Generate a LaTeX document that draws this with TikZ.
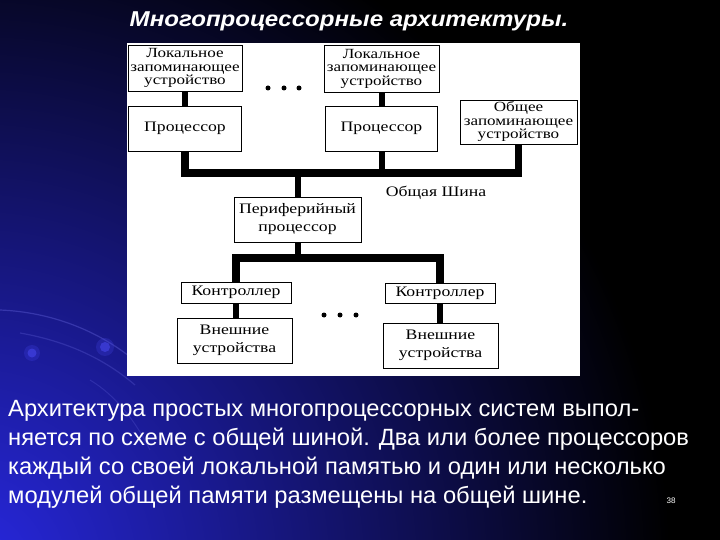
\documentclass[tikz,border=0pt]{standalone}
\usepackage{fontspec}
\setmainfont{Liberation Serif}
\newfontfamily\boxfont[FakeStretch=1.22]{Liberation Serif}
\newfontfamily\slidefont[FakeStretch=1.01]{Liberation Sans}
\newfontfamily\titlefont[FakeStretch=1.12]{Liberation Sans}
\definecolor{glowblue}{RGB}{40,40,225}
\definecolor{arcblue}{RGB}{90,90,210}
\definecolor{dotblue}{RGB}{70,70,235}
\tikzset{
  blk/.style={draw=black, fill=white, line width=0.9pt, inner sep=0pt, align=center,
    font=\boxfont\fontsize{14}{13.5}\selectfont},
  blk2/.style={blk, font=\boxfont\fontsize{14.5}{18}\selectfont},
  blk1/.style={blk, font=\boxfont\fontsize{14.5}{14}\selectfont},
  wire/.style={line width=6pt, black},
  bus/.style={line width=7.5pt, black, line join=miter},
  dotmark/.style={circle, fill=black, inner sep=0pt, minimum size=5pt},
  slidetext/.style={anchor=base west, text=white, inner sep=0pt,
    font=\slidefont\fontsize{23.5}{28}\selectfont}
}
\begin{document}
\begin{tikzpicture}[x=1pt,y=-1pt]
\useasboundingbox (0,0) rectangle (720,540);
\fill[black] (0,0) rectangle (720,540);
\begin{scope}
  \clip (0,0) rectangle (720,540);
  \shade[inner color=glowblue, outer color=black] (-30,570) circle (700pt);
  \draw[arcblue, opacity=0.45, line width=1.2pt] (0,310) .. controls (50,312) and (100,330) .. (140,365);
  \draw[arcblue, opacity=0.35, line width=1.2pt] (20,333) .. controls (60,340) and (100,355) .. (135,385);
  \draw[arcblue, opacity=0.3, line width=1pt] (90,380) .. controls (115,395) and (135,420) .. (150,450);
  \fill[dotblue, opacity=0.25] (32,353) circle (8pt);
  \fill[dotblue, opacity=0.6] (32,353) circle (4.5pt);
  \fill[dotblue, opacity=0.25] (105,347) circle (9pt);
  \fill[dotblue, opacity=0.6] (105,347) circle (5pt);
\end{scope}

% title
\node[anchor=base, text=white, inner sep=0pt, font=\titlefont\bfseries\itshape\fontsize{21.5}{22}\selectfont]
  (title) at (349,27) {Многопроцессорные архитектуры.};

% white panel
\fill[white] (127,43) rectangle (580,376);

% boxes
\node[blk, minimum width=114pt, minimum height=46pt] (mem1) at (185,68) {Локальное\\запоминающее\\устройство};
\node[blk1, minimum width=113pt, minimum height=45pt] (proc1) at (185,128.5) {Процессор};
\node[blk, minimum width=115pt, minimum height=47pt] (mem2) at (381.5,68.5) {Локальное\\запоминающее\\устройство};
\node[blk1, minimum width=112pt, minimum height=45pt] (proc2) at (381.5,128.5) {Процессор};
\node[blk, minimum width=117pt, minimum height=44pt] (common) at (518.5,122) {Общее\\запоминающее\\устройство};
\node[blk2, minimum width=127pt, minimum height=45pt] (periph) at (297.5,219.5) {Периферийный\\процессор};
\node[blk1, minimum width=110pt, minimum height=21pt] (ctrl1) at (236,292.5) {Контроллер};
\node[blk2, minimum width=115pt, minimum height=45pt] (ext1) at (234.5,340.5) {Внешние\\устройства};
\node[blk1, minimum width=110pt, minimum height=20pt] (ctrl2) at (440,293) {Контроллер};
\node[blk2, minimum width=115pt, minimum height=45pt] (ext2) at (440.5,345.5) {Внешние\\устройства};
\node[inner sep=0pt, font=\boxfont\fontsize{14.5}{14}\selectfont] (buslabel) at (436,193) {Общая Шина};

% bus coordinates
\coordinate (b1) at (0,173);
\coordinate (b2) at (0,258);

% connectors
\draw[wire] (mem1.south) -- (mem1.south |- proc1.north);
\draw[wire] (mem2.south) -- (mem2.south |- proc2.north);
\draw[bus] (proc1.south) |- (common.south |- b1) -- (common.south);
\draw[wire] (proc2.south) -- (proc2.south |- b1);
\draw[wire] (periph.north) -- (periph.north |- b1);
\draw[bus] (ctrl1.north) |- (ctrl2.north |- b2) -- (ctrl2.north);
\draw[wire] (periph.south) -- (periph.south |- b2);
\draw[wire] (ctrl1.south) -- (ctrl1.south |- ext1.north);
\draw[wire] (ctrl2.south) -- (ctrl2.south |- ext2.north);

% ellipsis dots
\node[dotmark] (d1) at (268,88) {};
\node[dotmark] (d2) at (284,88) {};
\node[dotmark] (d3) at (299,88) {};
\node[dotmark] (d4) at (324,315) {};
\node[dotmark] (d5) at (340,315) {};
\node[dotmark] (d6) at (356,315) {};

% slide text
\node[slidetext] (l1) at (8,416) {Архитектура простых многопроцессорных систем выпол-};
\node[slidetext] (l2) at (8,445) {няется по схеме с общей шиной. Два или более процессоров};
\node[slidetext] (l3) at (8,474) {каждый со своей локальной памятью и один или несколько};
\node[slidetext] (l4) at (8,503) {модулей общей памяти размещены на общей шине.};
\node[text=white, inner sep=0pt, font=\slidefont\fontsize{8}{8}\selectfont] (pg) at (671,501) {38};
\end{tikzpicture}
\end{document}
